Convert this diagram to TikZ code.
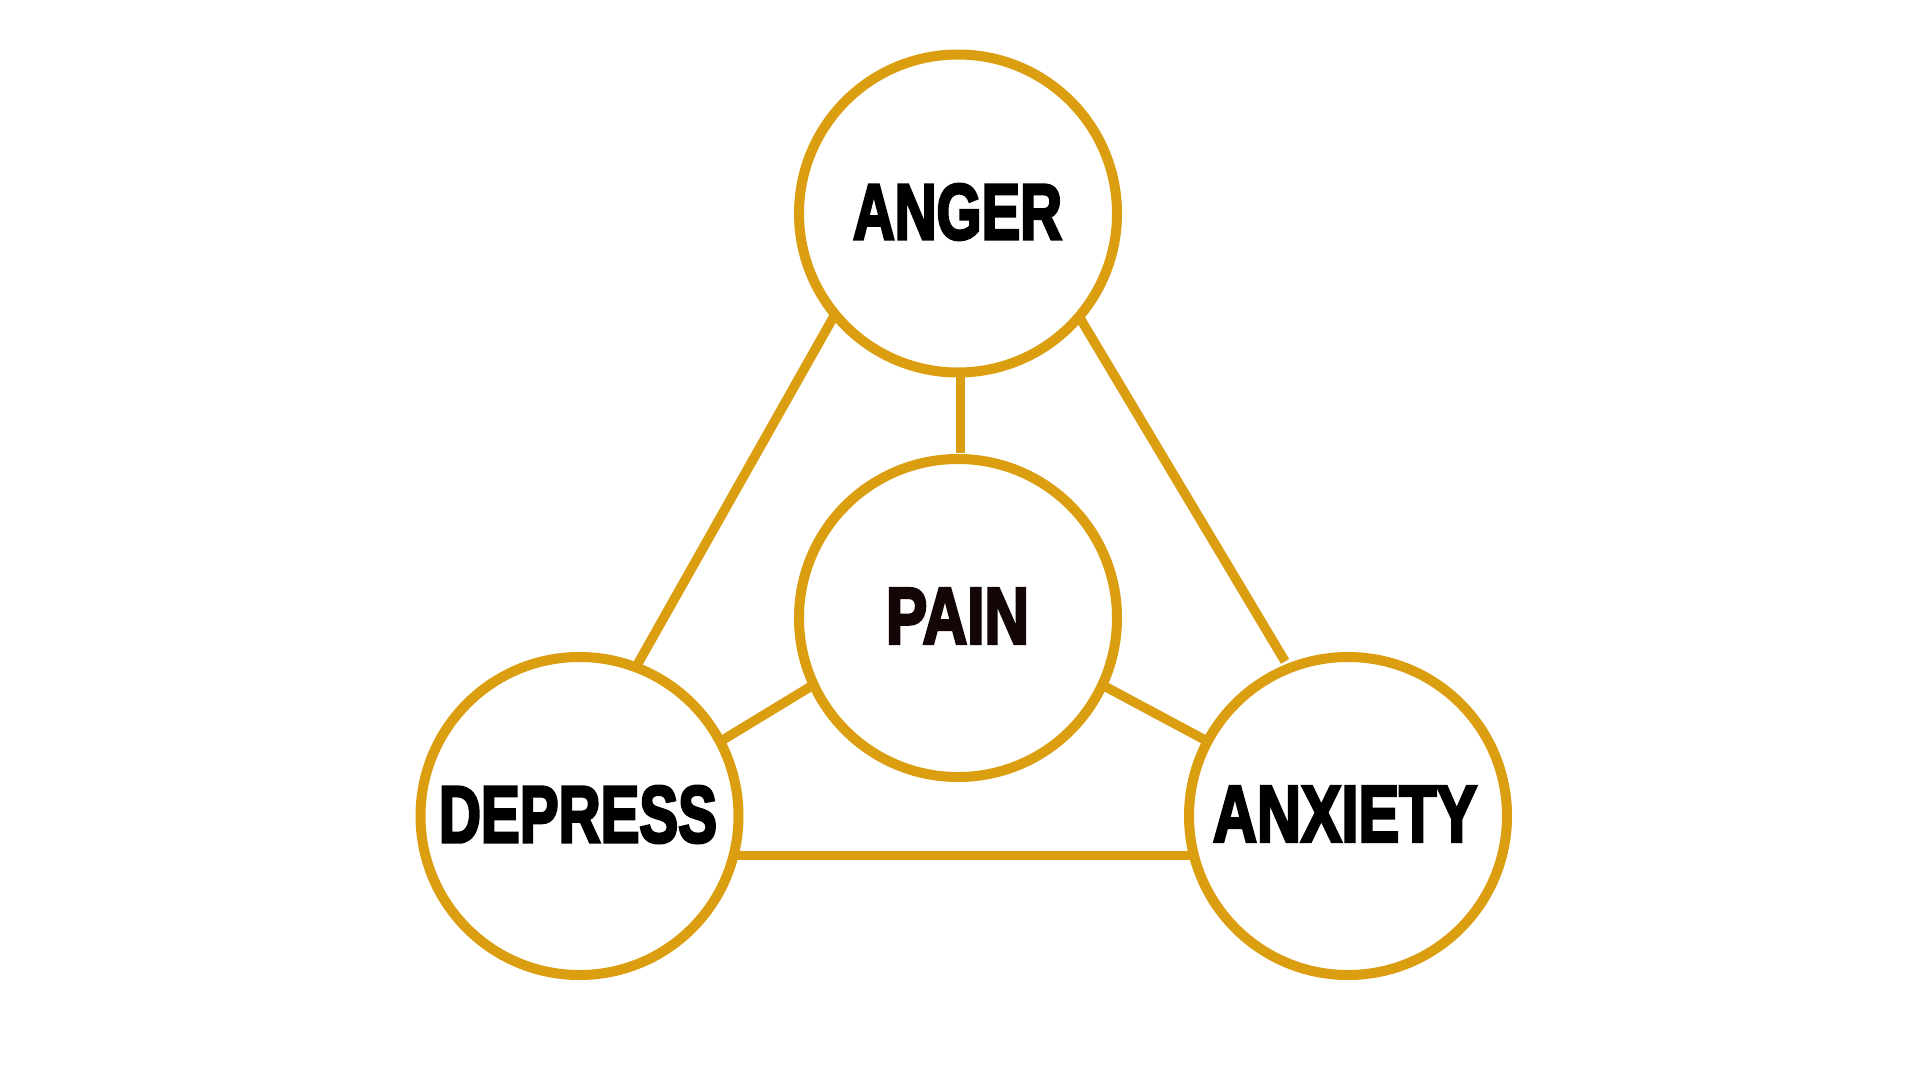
\documentclass[tikz,border=0pt]{standalone}
\usepackage{fontspec}
\setmainfont{Liberation Sans}[BoldFont={Liberation Sans Bold},BoldFeatures={FakeBold=4}]
\usetikzlibrary{backgrounds}
\definecolor{gold}{RGB}{218,158,16}
\definecolor{painink}{RGB}{20,6,6}
\newcommand{\fitlabel}[3]{\resizebox{#1pt}{#2pt}{\bfseries #3}}
\begin{document}
\begin{tikzpicture}[x=1pt,y=-1pt,
  bubble/.style={circle,draw=gold,line width=10pt,fill=white,minimum size=318pt,inner sep=0pt},
  link/.style={draw=gold,line width=9.5pt}]
\useasboundingbox (0,0) rectangle (1920,1080);
\node[bubble] (anger) at (958,213.5) {};
\node[bubble] (pain) at (958,618) {};
\node[bubble] (depress) at (579.5,816) {};
\node[bubble] (anxiety) at (1348,816) {};
\node[inner sep=0pt] (angert) at (957.5,212) {\fitlabel{209}{55}{ANGER}};
\node[inner sep=0pt,text=painink] (paint) at (957.5,616) {\fitlabel{143}{55}{PAIN}};
\node[inner sep=0pt] (depresst) at (578,814.5) {\fitlabel{278}{56}{DEPRESS}};
\node[inner sep=0pt] (anxietyt) at (1345,814) {\fitlabel{264}{55}{ANXIETY}};
\begin{pgfonlayer}{background}
\fill[white] (0,0) rectangle (1920,1080);
\draw[link,shorten <=-5pt,shorten >=-5pt] (anger.220) -- (depress.69.4);
\draw[link,shorten <=-5pt,shorten >=3pt] (anger.319.3) -- (anxiety.112.9);
\draw[link,shorten <=-5pt,shorten >=1pt] ([xshift=2.5pt]anger.south) -- ([xshift=2.5pt]pain.north);
\draw[link,shorten <=-5pt,shorten >=-5pt] (pain.205) -- (depress.28.5);
\draw[link,shorten <=-5pt,shorten >=-5pt] (pain.335.2) -- (anxiety.152.3);
\draw[link,shorten <=-5pt,shorten >=-5pt] (depress.-14.4) -- (anxiety.194.4);
\end{pgfonlayer}
\end{tikzpicture}
\end{document}
